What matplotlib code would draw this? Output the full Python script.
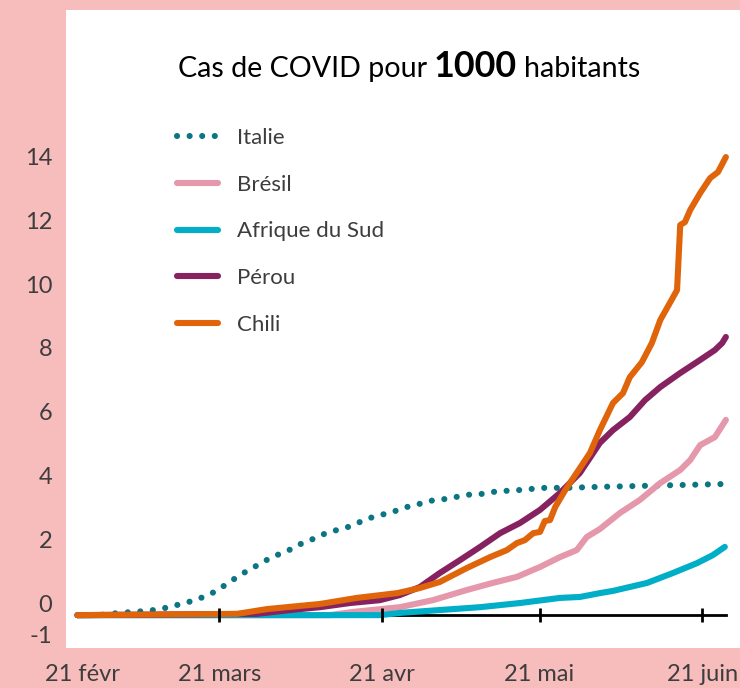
import matplotlib
matplotlib.use('Agg')
import matplotlib.pyplot as plt
from matplotlib.transforms import ScaledTranslation

# ---- data (day 0 = 21 février 2020, values: cas pour 1000 habitants) ----
italie_days = [2, 6, 10, 15, 18, 20, 22, 25, 27, 29, 31, 33, 35, 37, 39, 42, 44, 46, 48, 50,
               53, 55, 57, 59, 62, 64, 67, 69, 72, 74, 76, 79, 81, 83, 86, 88, 91, 95, 101,
               109, 117, 125]
italie_vals = [-0.38, -0.38, -0.31, -0.25, -0.19, -0.09, -0.03, 0.13, 0.25, 0.44, 0.66, 0.88,
               1.07, 1.25, 1.44, 1.63, 1.82, 1.94, 2.10, 2.23, 2.35, 2.48, 2.63, 2.73, 2.85,
               2.98, 3.10, 3.20, 3.26, 3.32, 3.39, 3.42, 3.48, 3.51, 3.54, 3.57, 3.61, 3.61,
               3.64, 3.67, 3.70, 3.73]

bresil_days = [2, 50, 54.5, 63.4, 69.7, 76.2, 81.1, 85.7, 90.1, 93.9, 97.1, 99.0, 101.5,
               105.3, 109.1, 113.0, 116.8, 118.7, 120.6, 123.4, 125.5]
bresil_vals = [-0.38, -0.38, -0.28, -0.13, 0.09, 0.41, 0.63, 0.82, 1.13, 1.44, 1.66, 2.07,
               2.32, 2.82, 3.23, 3.76, 4.17, 4.48, 4.95, 5.20, 5.74]

afrique_days = [2, 59.6, 63.4, 71.0, 78.7, 86.3, 93.9, 97.7, 101.5, 104.0, 110.5, 115.4,
                120.0, 123.0, 125.3]
afrique_vals = [-0.38, -0.38, -0.31, -0.22, -0.13, 0.0, 0.16, 0.19, 0.31, 0.38, 0.63, 0.94,
                1.25, 1.50, 1.76]

perou_days = [2, 36.2, 42.5, 48.2, 53.9, 59.6, 63.4, 67.2, 71.0, 74.9, 78.7, 82.5, 86.3,
              90.1, 93.9, 97.7, 101.5, 104.0, 107.2, 110.1, 113.0, 116.8, 120.6, 123.4,
              124.8, 125.5]
perou_vals = [-0.38, -0.34, -0.22, -0.13, 0.0, 0.09, 0.25, 0.50, 0.94, 1.35, 1.76, 2.19,
              2.51, 2.92, 3.45, 4.08, 5.02, 5.42, 5.83, 6.36, 6.77, 7.21, 7.62, 7.93, 8.15,
              8.34]

chili_days = [2, 32.4, 38.1, 48.2, 55.2, 62.9, 67.2, 71.0, 76.2, 80.6, 83.8, 85.7, 87.2,
              88.8, 90.1, 91.0, 92.0, 93.0, 94.9, 96.8, 99.6, 101.5, 104.0, 105.9, 107.2,
              109.5, 111.4, 113.0, 116.2, 116.8, 117.7, 118.7, 120.6, 122.5, 124.0, 125.5]
chili_vals = [-0.38, -0.34, -0.19, -0.03, 0.16, 0.31, 0.47, 0.66, 1.10, 1.44, 1.66, 1.88,
              1.97, 2.19, 2.23, 2.57, 2.60, 3.01, 3.54, 4.01, 4.70, 5.42, 6.27, 6.58, 7.08,
              7.55, 8.15, 8.87, 9.81, 11.85, 11.94, 12.32, 12.85, 13.32, 13.51, 13.98]

baseline = -0.376
x_tick_days = [0, 29, 60, 90, 121]
x_tick_labels = ['21 févr', '21 mars', '21 avr', '21 mai', '21 juin']
y_ticks = [-1, 0, 2, 4, 6, 8, 10, 12, 14]
y_tick_labels = ['-1', '0', '2', '4', '6', '8', '10', '12', '14']

series = [
    ('Italie', italie_days, italie_vals, '#0b7582', 'dot'),
    ('Brésil', bresil_days, bresil_vals, '#e597ab', 'solid'),
    ('Afrique du Sud', afrique_days, afrique_vals, '#00aec8', 'solid'),
    ('Pérou', perou_days, perou_vals, '#86225f', 'solid'),
    ('Chili', chili_days, chili_vals, '#e0640a', 'solid'),
]

# ---- figure ----
plt.rcParams['font.family'] = ['Lato', 'DejaVu Sans']
W, H = 740, 688
fig = plt.figure(figsize=(W / 100, H / 100), dpi=100)
fig.patch.set_facecolor('#f7bdbc')

ax = fig.add_axes([66 / W, (H - 648) / H, (740 - 66) / W, (648 - 10) / H])
ax.set_facecolor('white')
ax.set_xlim(-0.19, 128.19)
ax.set_ylim(-1.41, 18.59)

lw = 4.4
for name, d, v, c, style in series:
    if style == 'dot':
        ax.plot(d, v, color=c, lw=lw, linestyle=(0, (0.01, 2.05)),
                dash_capstyle='round', label=name, zorder=3)
    else:
        ax.plot(d, v, color=c, lw=lw, solid_capstyle='round',
                solid_joinstyle='round', label=name, zorder=3)

for s in ['top', 'right', 'left']:
    ax.spines[s].set_visible(False)
ax.spines['bottom'].set_position(('data', baseline))
ax.spines['bottom'].set_bounds(2, 125.5)
ax.spines['bottom'].set_linewidth(2)
ax.spines['bottom'].set_zorder(1)

ax.set_xticks(x_tick_days)
ax.set_xticklabels(x_tick_labels)
ax.tick_params(axis='x', direction='inout', length=9.5, width=2, color='black',
               pad=30.5, labelsize=17, labelcolor='#3d3d3d')
ax.xaxis.set_zorder(4)
first = ax.xaxis.get_major_ticks()[0]
first.tick1line.set_visible(False)
first.label1.set_transform(first.label1.get_transform() +
                           ScaledTranslation(16 / 100, 0, fig.dpi_scale_trans))

ax.set_yticks(y_ticks)
ax.set_yticklabels(y_tick_labels)
ax.tick_params(axis='y', length=0, pad=10, labelsize=17, labelcolor='#3d3d3d')

leg = ax.legend(loc='upper left', bbox_to_anchor=(177 / W, 1 - 128 / H),
                bbox_transform=fig.transFigure, frameon=False, fontsize=16,
                handlelength=1.85, handletextpad=0.85, labelspacing=1.2,
                borderpad=0, borderaxespad=0)
for t in leg.get_texts():
    t.set_color('#3d3d3d')

# ---- title: regular + bold + regular ----
fig.canvas.draw()
r = fig.canvas.get_renderer()
parts = [('Cas de COVID pour', 20.6, 'normal'), ('1000', 25.8, 'bold'), ('habitants', 20.6, 'normal')]
gap = 7
texts = []
for s, size, wt in parts:
    t = fig.text(0, 1 - 77 / H, s, fontsize=size, fontweight=wt, color='black',
                 va='baseline', ha='left')
    texts.append(t)
widths = [t.get_window_extent(r).width for t in texts]
total = sum(widths) + gap * (len(widths) - 1)
x = 409 - total / 2
for t, w in zip(texts, widths):
    t.set_x(x / W)
    x += w + gap

fig.savefig('out.png', dpi=100, facecolor=fig.get_facecolor())
